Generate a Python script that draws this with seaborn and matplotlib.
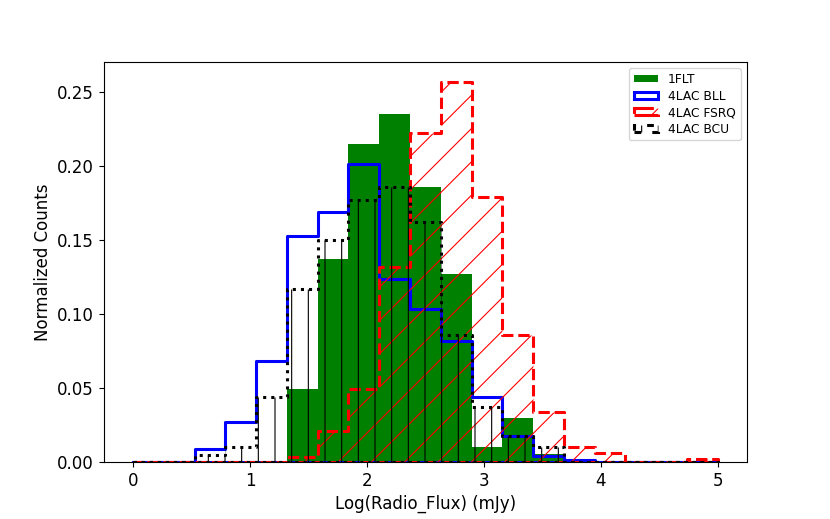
import numpy as np
import seaborn as sns
import matplotlib
matplotlib.use('Agg')
import matplotlib.pyplot as plt

# bin edges shared by all histograms
edges = list(np.linspace(0, 5, 20))
centers = [(a + b) / 2 for a, b in zip(edges[:-1], edges[1:])]

# normalized counts per bin
flt = [0, 0, 0, 0, 0, 0.049, 0.137, 0.215, 0.235, 0.186, 0.127,
       0.0103, 0.0296, 0.0054, 0, 0, 0, 0, 0]
bll = [0, 0, 0.0088, 0.0267, 0.068, 0.1524, 0.169, 0.201, 0.1238, 0.103,
       0.082, 0.044, 0.0177, 0.0043, 0.001, 0, 0, 0, 0]
fsrq = [0, 0, 0, 0, 0, 0.0036, 0.021, 0.049, 0.1317, 0.222, 0.257,
        0.179, 0.086, 0.0337, 0.0099, 0.0063, 0, 0, 0.0022]
bcu = [0, 0, 0.0045, 0.0103, 0.0436, 0.117, 0.150, 0.177, 0.186, 0.162,
       0.0856, 0.0369, 0.0177, 0.0101, 0, 0, 0, 0, 0]

plt.rcParams['font.size'] = 12
plt.rcParams['hatch.linewidth'] = 0.8

fig, ax = plt.subplots(figsize=(8.3, 5.19), dpi=100)

# 1FLT 填充
sns.histplot(x=centers, weights=flt, bins=edges, element='step', fill=True,
             color='green', alpha=1, linewidth=0, label='1FLT', ax=ax)

# 4LAC BLL
sns.histplot(x=centers, weights=bll, bins=edges, element='step', fill=True,
             color='blue', facecolor='none', linewidth=2.2,
             label='4LAC BLL', ax=ax)

# 4LAC FSRQ
sns.histplot(x=centers, weights=fsrq, bins=edges, element='step', fill=True,
             color='red', facecolor='none', linewidth=2.2, linestyle='--',
             hatch='/', label='4LAC FSRQ', ax=ax)

# 4LAC BCU
sns.histplot(x=centers, weights=bcu, bins=edges, element='step', fill=True,
             color='black', facecolor='none', linewidth=2.2, linestyle=':',
             hatch='|', label='4LAC BCU', ax=ax)

ax.set_xlabel('Log(Radio_Flux) (mJy)')
ax.set_ylabel('Normalized Counts')
ax.set_xlim(-0.25, 5.25)
ax.set_ylim(0, 0.27)
ax.legend(loc='upper right', fontsize=8.8, labelspacing=0.28, handleheight=0.5)

plt.savefig('out.png', dpi=100)
